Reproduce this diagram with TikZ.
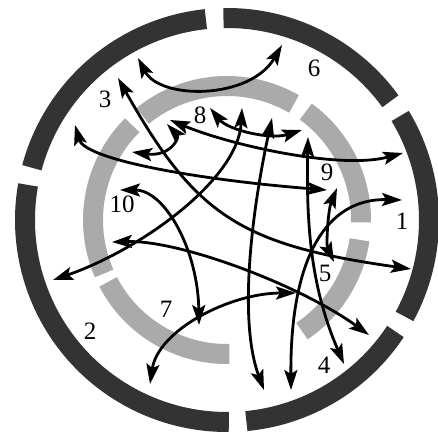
\documentclass[tikz,border=0pt]{standalone}
\usepackage{fontspec}
\setmainfont{Liberation Serif}
\usetikzlibrary{arrows.meta}
\definecolor{RingDark}{RGB}{51,51,51}
\definecolor{RingLight}{RGB}{170,170,170}
\tikzset{
  outerseg/.style={draw=RingDark,line width=10pt},
  innerseg/.style={draw=RingLight,line width=10pt},
  link/.style={{Stealth[length=10pt,width=6.5pt,inset=2pt]}-{Stealth[length=10pt,width=6.5pt,inset=2pt]},
    line width=1.4pt,black},
  num/.style={inner sep=0pt,font=\fontsize{12.5}{12.5}\selectfont}
}
\begin{document}
\begin{tikzpicture}[x=0.5pt,y=-0.5pt]
  \useasboundingbox (0,0) rectangle (438,434);
  \begin{scope}[shift={(227,220)},yscale=-1]
    \foreach \a/\b in {36/91,96/165,170/270.5,275.5/326.5,331.5/391}
      \draw[outerseg] (\a:202) arc[start angle=\a,end angle=\b,radius=202];
    \foreach \a/\b in {60/129,135/203.5,207.5/271,304/351.5,-1/54}
      \draw[innerseg] (\a:134) arc[start angle=\a,end angle=\b,radius=134];
  \end{scope}

  \coordinate (a6) at (138,58);   \coordinate (b6) at (282,45);
  \coordinate (a3) at (118,78);   \coordinate (b3) at (411,269);
  \coordinate (a4) at (75,125);   \coordinate (b4) at (327,190);
  \coordinate (a8) at (170,120);  \coordinate (b8) at (403,153);
  \coordinate (c8) at (210,108);  \coordinate (d8) at (302,130);
  \coordinate (hk1) at (132,152); \coordinate (hk2) at (167,124);
  \coordinate (a2) at (242,108);  \coordinate (b2) at (53,280);
  \coordinate (v1a) at (272,118); \coordinate (v1b) at (264,390);
  \coordinate (v2a) at (308,137); \coordinate (v2b) at (344,364);
  \coordinate (v3a) at (402,200); \coordinate (v3b) at (291,390);
  \coordinate (a5) at (337,188);  \coordinate (b5) at (334,262);
  \coordinate (a10) at (120,190); \coordinate (b10) at (199,325);
  \coordinate (c2) at (112,242);  \coordinate (d2) at (369,335);
  \coordinate (a7) at (150,384);  \coordinate (b7) at (296,293);

  \draw[link] (a6) .. controls (160,100) and (250,100) .. (b6);
  \draw[link] (a3) .. controls (195,215) and (240,245) .. (b3);
  \draw[link] (a4) .. controls (85,160) and (200,180) .. (b4);
  \draw[link] (a8) .. controls (230,145) and (340,170) .. (b8);
  \draw[link] (c8) .. controls (228,130) and (270,140) .. (d8);
  \draw[link] (hk1) .. controls (170,157) and (180,138) .. (hk2);
  \draw[link] (a2) .. controls (238,180) and (140,250) .. (b2);
  \draw[link] (v1a) .. controls (252,210) and (238,320) .. (v1b);
  \draw[link] (v2a) .. controls (306,230) and (312,290) .. (v2b);
  \draw[link] (v3a) .. controls (325,198) and (290,260) .. (v3b);
  \draw[link] (a5) .. controls (328,210) and (326,245) .. (b5);
  \draw[link] (a10) .. controls (165,190) and (198,250) .. (b10);
  \draw[link] (c2) .. controls (180,240) and (300,285) .. (d2);
  \draw[link] (a7) .. controls (158,330) and (230,293) .. (b7);

  \node[num] (n1) at (402,221) {1};
  \node[num] (n2) at (90,331) {2};
  \node[num] (n3) at (105,99) {3};
  \node[num] (n4) at (324,365) {4};
  \node[num] (n5) at (325,273) {5};
  \node[num] (n6) at (314,68) {6};
  \node[num] (n7) at (166,309) {7};
  \node[num] (n8) at (200,115) {8};
  \node[num] (n9) at (327,172) {9};
  \node[num] (n10) at (122,204) {10};
\end{tikzpicture}
\end{document}
